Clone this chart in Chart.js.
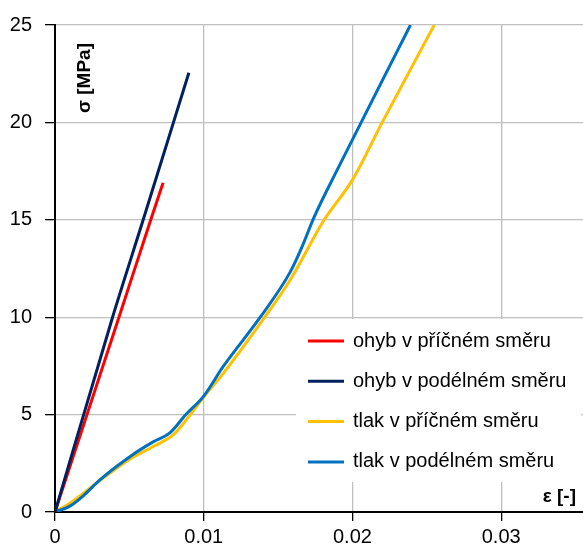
<!DOCTYPE html>
<html>
<head>
    <meta charset="utf-8" />
    <title>σ–ε</title>
    <script src="https://cdn.jsdelivr.net/npm/chart.js@4.4.0/dist/chart.umd.min.js"></script>
    <style>
        html, body { margin: 0; padding: 0; background: white; }
        #wrap { width: 583px; height: 551px; }
    </style>
</head>
<body>
    <div id="wrap"><canvas id="c"></canvas></div>
    <script>
        // series names and values (strain [-], stress [MPa])
        const seriesNames = ['ohyb v příčném směru', 'ohyb v podélném směru', 'tlak v příčném směru', 'tlak v podélném směru'];
        const seriesColors = ['#ff0000', '#002060', '#ffc000', '#0070c0'];

        const ohybPricnyX = [0, 0.0043, 0.00644, 0.00727];
        const ohybPricnyY = [0, 10, 15, 16.9];

        const ohybPodelnyX = [0, 0.00387, 0.00593, 0.009];
        const ohybPodelnyY = [0, 10, 15, 22.55];

        const tlakPricnyX = [0, 0.001, 0.003, 0.005, 0.0067, 0.008, 0.009, 0.01, 0.0113, 0.0141, 0.0158, 0.0181, 0.02, 0.022, 0.0255];
        const tlakPricnyY = [0, 0.45, 1.6, 2.7, 3.4, 4.0, 4.9, 5.9, 7.1, 10, 11.9, 15, 17.05, 20, 25];

        const tlakPodelnyX = [0, 0.001, 0.002, 0.003, 0.0052, 0.0066, 0.0077, 0.0088, 0.01, 0.0113, 0.0138, 0.0158, 0.0166, 0.0174, 0.019, 0.0239];
        const tlakPodelnyY = [0, 0.3, 0.9, 1.64, 2.93, 3.6, 4.05, 5.0, 5.95, 7.46, 10, 12.3, 13.6, 15.1, 17.6, 25];

        const xTicks = [0, 0.01, 0.02, 0.03];
        const yTicks = [0, 5, 10, 15, 20, 25];

        function pts(xs, ys) {
            return xs.map((x, i) => ({ x: x, y: ys[i] }));
        }

        const FONT = "'Liberation Sans', Arial, sans-serif";

        // legend box drawn inside the plot, over the grid
        const boxLegend = {
            id: 'boxLegend',
            afterDatasetsDraw(chart) {
                const ctx = chart.ctx;
                ctx.save();
                ctx.fillStyle = 'white';
                ctx.fillRect(296, 319, 285, 163);
                ctx.font = '20px ' + FONT;
                ctx.textBaseline = 'middle';
                chart.data.datasets.forEach((ds, i) => {
                    const y = 341 + i * 40.3;
                    ctx.strokeStyle = ds.borderColor;
                    ctx.lineWidth = 3;
                    ctx.beginPath();
                    ctx.moveTo(308, y);
                    ctx.lineTo(344, y);
                    ctx.stroke();
                    ctx.fillStyle = '#000';
                    ctx.fillText(ds.label, 353, y);
                });

                // axis titles sit inside the plot area
                ctx.font = 'bold 19px ' + FONT;
                ctx.textAlign = 'right';
                ctx.fillText('ε [-]', 576, 497);
                ctx.translate(85, 78);
                ctx.rotate(-Math.PI / 2);
                ctx.textAlign = 'center';
                ctx.fillText('σ [MPa]', 0, 0);
                ctx.restore();
            }
        };

        const makeSet = (i, xs, ys, order) => ({
            label: seriesNames[i],
            data: pts(xs, ys),
            borderColor: seriesColors[i],
            backgroundColor: seriesColors[i],
            borderWidth: 3,
            pointRadius: 0,
            showLine: true,
            cubicInterpolationMode: 'monotone',
            order: order
        });

        new Chart(document.getElementById('c'), {
            type: 'scatter',
            data: {
                datasets: [
                    makeSet(0, ohybPricnyX, ohybPricnyY, 2),
                    makeSet(1, ohybPodelnyX, ohybPodelnyY, 1),
                    makeSet(2, tlakPricnyX, tlakPricnyY, 4),
                    makeSet(3, tlakPodelnyX, tlakPodelnyY, 3)
                ]
            },
            options: {
                responsive: true,
                maintainAspectRatio: false,
                animation: false,
                layout: { padding: { top: 25, left: 0, right: 0, bottom: 0 } },
                plugins: {
                    legend: { display: false },
                    tooltip: { enabled: false }
                },
                scales: {
                    x: {
                        type: 'linear',
                        min: 0,
                        max: 0.0355,
                        afterBuildTicks: (scale) => { scale.ticks = xTicks.map(v => ({ value: v })); },
                        afterFit: (scale) => { scale.height = 39; },
                        ticks: {
                            color: '#000',
                            font: { family: FONT, size: 20 },
                            padding: 4,
                            maxRotation: 0,
                            callback: (v) => String(v)
                        },
                        grid: { color: '#bfbfbf', lineWidth: 1.3, tickColor: '#000', tickLength: 9 },
                        border: { color: '#000', width: 2 }
                    },
                    y: {
                        min: 0,
                        max: 25,
                        afterBuildTicks: (scale) => { scale.ticks = yTicks.map(v => ({ value: v })); },
                        afterFit: (scale) => { scale.width = 55; },
                        ticks: {
                            color: '#000',
                            font: { family: FONT, size: 20 },
                            padding: 13
                        },
                        grid: { color: '#bfbfbf', lineWidth: 1.3, tickColor: '#000', tickLength: 10 },
                        border: { color: '#000', width: 2 }
                    }
                }
            },
            plugins: [boxLegend]
        });
    </script>
</body>
</html>
